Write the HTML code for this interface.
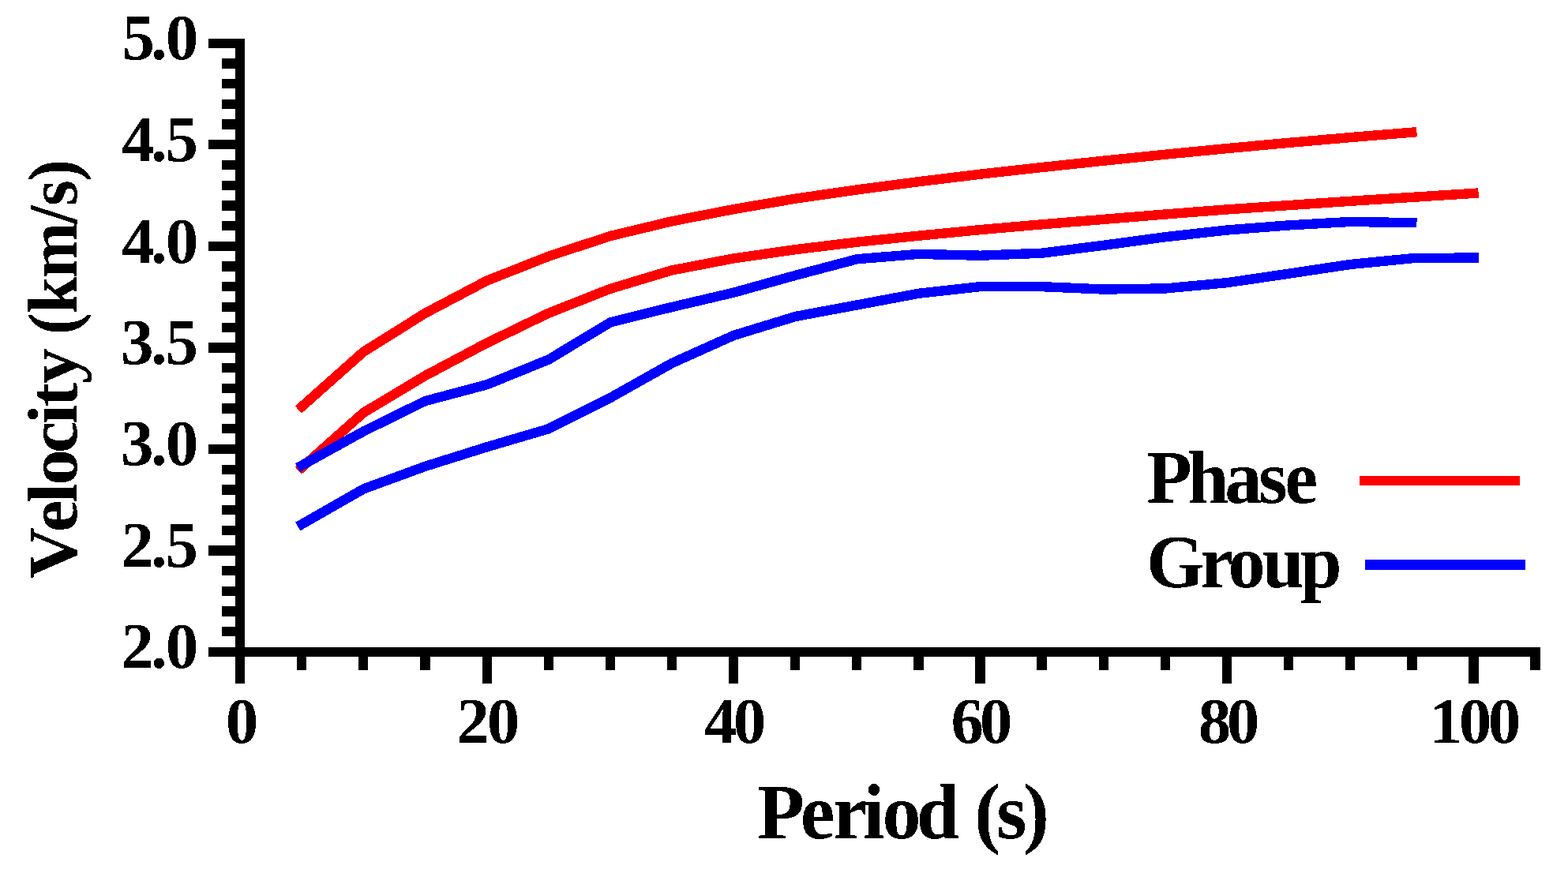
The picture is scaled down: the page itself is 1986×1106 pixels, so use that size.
<!DOCTYPE html>
<html lang="en"><head><meta charset="utf-8"><title>Velocity (km/s) - Period (s)</title>
<style>html,body{margin:0;padding:0;background:#fff}body{width:1986px;height:1106px;overflow:hidden}svg{display:block;font-family:"Liberation Serif",serif;font-weight:bold;font-size:100px;fill:#000;font-kerning:none}.ax{shape-rendering:crispEdges}.cv{fill:none;stroke-width:12.4;stroke-linecap:square;stroke-linejoin:miter;shape-rendering:crispEdges}</style></head><body>
<svg width="1986" height="1106" viewBox="0 0 1986 1106">
<defs><filter id="crisp" filterUnits="userSpaceOnUse" x="0" y="0" width="1986" height="1106" color-interpolation-filters="sRGB"><feComponentTransfer><feFuncA type="discrete" tableValues="0 1"/></feComponentTransfer></filter></defs>
<rect width="1986" height="1106" fill="#fff"/>
<g class="cv">
<polyline stroke="#ff0000" points="382.5,514.96 460.6,445.54 538.7,396.69 616.8,355.56 694.9,324.7 773,299 851.1,280.3 929.2,265.1 1007.3,251.7 1085.4,240.4 1163.5,230.2 1241.6,220.7 1319.7,212 1397.8,203.7 1475.9,195.7 1554,188.1 1632.1,180.9 1710.2,174.1 1788.3,167.7"/>
<polyline stroke="#ff0000" points="382.5,592.09 460.6,522.67 538.7,475.89 616.8,434.46 694.9,396.69 773,365.84 851.1,342.4 929.2,327.4 1007.3,316.2 1085.4,306.7 1163.5,298.7 1241.6,291.1 1319.7,284.3 1397.8,277.9 1475.9,271.5 1554,265.4 1632.1,260.1 1710.2,254.8 1788.3,249.9 1866.4,244.9"/>
<polyline stroke="#0000ff" points="382.5,589.52 460.6,546.38 538.7,508.02 616.8,487.25 694.9,455.53 773,408.45 851.1,388.98 929.2,370.68 1007.3,348.9 1085.4,328.28 1163.5,321.85 1241.6,323.75 1319.7,320.67 1397.8,310.79 1475.9,300.25 1554,291.5 1632.1,285.44 1710.2,280.93 1788.3,282.16"/>
<polyline stroke="#0000ff" points="382.5,663.95 460.6,619.37 538.7,590.79 616.8,566.25 694.9,543.24 773,503.98 851.1,460.07 929.2,424.97 1007.3,401.03 1085.4,386.41 1163.5,371.8 1241.6,363.1 1319.7,363.16 1397.8,366.55 1475.9,365.44 1554,358.2 1632.1,346.75 1710.2,334.99 1788.3,327.28 1866.4,326.45"/>
</g>
<g class="ax">
<rect x="1722" y="603" width="203" height="12" fill="#ff0000"/>
<rect x="1729" y="709" width="203" height="13" fill="#0000ff"/>
<rect x="298" y="49" width="12" height="817"/>
<rect x="264" y="820" width="1687" height="12"/>
<rect x="281" y="794" width="17" height="12"/>
<rect x="281" y="768" width="17" height="13"/>
<rect x="281" y="743" width="17" height="12"/>
<rect x="281" y="717" width="17" height="12"/>
<rect x="264" y="691" width="34" height="13"/>
<rect x="281" y="666" width="17" height="12"/>
<rect x="281" y="640" width="17" height="12"/>
<rect x="281" y="614" width="17" height="13"/>
<rect x="281" y="589" width="17" height="12"/>
<rect x="264" y="563" width="34" height="12"/>
<rect x="281" y="537" width="17" height="12"/>
<rect x="281" y="511" width="17" height="13"/>
<rect x="281" y="486" width="17" height="12"/>
<rect x="281" y="460" width="17" height="12"/>
<rect x="264" y="434" width="34" height="13"/>
<rect x="281" y="409" width="17" height="12"/>
<rect x="281" y="383" width="17" height="12"/>
<rect x="281" y="357" width="17" height="12"/>
<rect x="281" y="331" width="17" height="13"/>
<rect x="264" y="306" width="34" height="12"/>
<rect x="281" y="280" width="17" height="12"/>
<rect x="281" y="254" width="17" height="13"/>
<rect x="281" y="229" width="17" height="12"/>
<rect x="281" y="203" width="17" height="12"/>
<rect x="264" y="177" width="34" height="12"/>
<rect x="281" y="151" width="17" height="13"/>
<rect x="281" y="126" width="17" height="12"/>
<rect x="281" y="100" width="17" height="12"/>
<rect x="281" y="74" width="17" height="13"/>
<rect x="264" y="49" width="34" height="12"/>
<rect x="376" y="832" width="12" height="17"/>
<rect x="454" y="832" width="12" height="17"/>
<rect x="532" y="832" width="13" height="17"/>
<rect x="611" y="832" width="12" height="34"/>
<rect x="689" y="832" width="12" height="17"/>
<rect x="767" y="832" width="12" height="17"/>
<rect x="845" y="832" width="12" height="17"/>
<rect x="923" y="832" width="12" height="34"/>
<rect x="1001" y="832" width="12" height="17"/>
<rect x="1079" y="832" width="12" height="17"/>
<rect x="1157" y="832" width="13" height="17"/>
<rect x="1235" y="832" width="13" height="34"/>
<rect x="1313" y="832" width="13" height="17"/>
<rect x="1392" y="832" width="12" height="17"/>
<rect x="1470" y="832" width="12" height="17"/>
<rect x="1548" y="832" width="12" height="34"/>
<rect x="1626" y="832" width="12" height="17"/>
<rect x="1704" y="832" width="12" height="17"/>
<rect x="1782" y="832" width="13" height="17"/>
<rect x="1860" y="832" width="13" height="34"/>
<rect x="1938" y="832" width="13" height="17"/>
</g>
<g filter="url(#crisp)">
<text transform="translate(0 75.3) scale(0.8300 0.8330)" x="186.27 230.27 252.71" y="0">5.0</text>
<text transform="translate(0 204.3) scale(0.8300 0.8330)" x="185.85 230.27 252.54" y="0">4.5</text>
<text transform="translate(0 333.3) scale(0.8300 0.8330)" x="185.85 230.27 252.71" y="0">4.0</text>
<text transform="translate(0 461.3) scale(0.8300 0.8330)" x="184.47 230.27 252.54" y="0">3.5</text>
<text transform="translate(0 589.3) scale(0.8300 0.8330)" x="184.47 230.27 252.71" y="0">3.0</text>
<text transform="translate(0 718.3) scale(0.8300 0.8330)" x="184.69 230.27 252.54" y="0">2.5</text>
<text transform="translate(0 846.3) scale(0.8300 0.8330)" x="184.69 230.27 252.71" y="0">2.0</text>
<text transform="translate(0 941.3) scale(0.8300 0.8330)" x="344.28" y="0">0</text>
<text transform="translate(0 941.3) scale(0.8300 0.8330)" x="696.74 743.07" y="0">20</text>
<text transform="translate(0 941.3) scale(0.8300 0.8330)" x="1074.4 1118.98" y="0">40</text>
<text transform="translate(0 941.3) scale(0.8300 0.8330)" x="1451.26 1494.88" y="0">60</text>
<text transform="translate(0 941.3) scale(0.8300 0.8330)" x="1828.61 1871.99" y="0">80</text>
<text transform="translate(0 941.3) scale(0.8300 0.8330)" x="2181.42 2226.2 2270.78" y="0">100</text>
<text transform="translate(0 1062.3) scale(0.9800 1.0000)" x="978.69 1034.54 1076.62 1115.33 1140.31 1184.5 1240.12 1259.4 1287.9 1322.71" y="0">Period (s)</text>
<text transform="translate(0 637.3) scale(0.9400 0.9500)" x="1545.02 1599.9 1650.21 1695.67 1731.12" y="0">Phase</text>
<text transform="translate(0 744.3) scale(0.9400 0.9500)" x="1544.61 1616.9 1654.79 1700.97 1752.31" y="0">Group</text>
<text transform="translate(97.3 0) rotate(-90) scale(0.9100 0.8900)" x="-805.89 -740.74 -700.28 -675.55 -630.9 -590.63 -566.14 -534.34" y="0">Velocity</text>
<text transform="translate(97.3 0) rotate(-90) scale(0.8400 0.8900)" x="-504.74 -473.03 -418.92 -337.73 -310.82 -273.8" y="0">(km/s)</text>
</g>
</svg></body></html>
